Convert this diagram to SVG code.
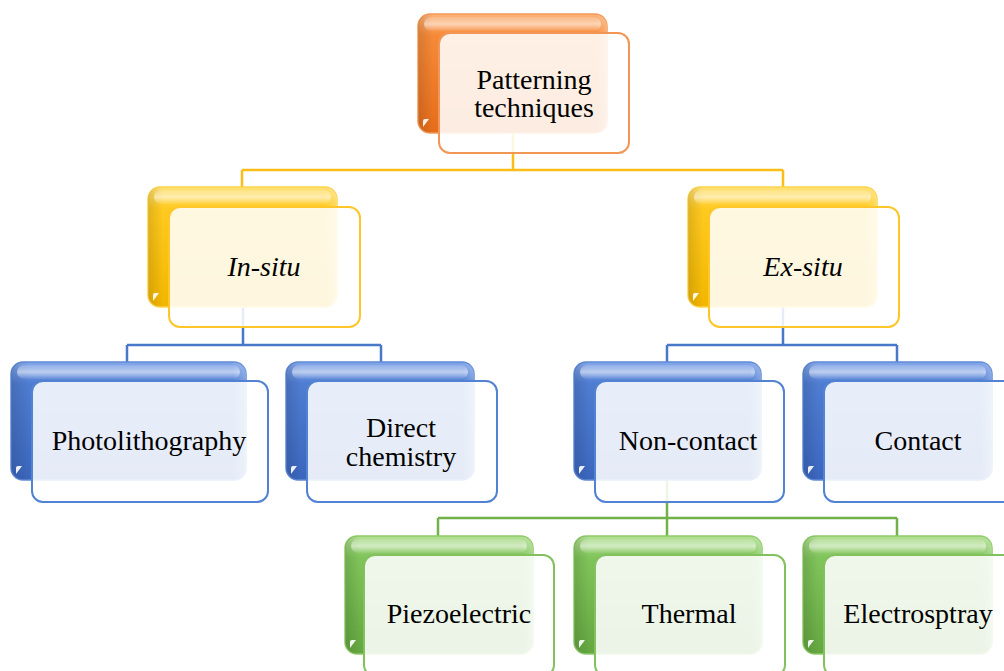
<svg xmlns="http://www.w3.org/2000/svg" width="1004" height="671" viewBox="0 0 1004 671">
  <defs>
    <linearGradient id="gOrange" x1="0" y1="0" x2="0" y2="1">
      <stop offset="0" stop-color="#fbb37a"/>
      <stop offset="0.18" stop-color="#f68a38"/>
      <stop offset="1" stop-color="#e56d1b"/>
    </linearGradient>
    <linearGradient id="gYellow" x1="0" y1="0" x2="0" y2="1">
      <stop offset="0" stop-color="#ffe27a"/>
      <stop offset="0.18" stop-color="#ffca1f"/>
      <stop offset="1" stop-color="#f2b600"/>
    </linearGradient>
    <linearGradient id="gBlue" x1="0" y1="0" x2="0" y2="1">
      <stop offset="0" stop-color="#86a8ea"/>
      <stop offset="0.18" stop-color="#4f7dd2"/>
      <stop offset="1" stop-color="#3b66bd"/>
    </linearGradient>
    <linearGradient id="gGreen" x1="0" y1="0" x2="0" y2="1">
      <stop offset="0" stop-color="#b4e196"/>
      <stop offset="0.18" stop-color="#80c45a"/>
      <stop offset="1" stop-color="#64a640"/>
    </linearGradient>
    <!-- horizontal darkening toward the left edge of the back tiles -->
    <linearGradient id="edge" x1="0" y1="0" x2="1" y2="0">
      <stop offset="0" stop-color="#000" stop-opacity="0.12"/>
      <stop offset="0.08" stop-color="#000" stop-opacity="0"/>
      <stop offset="0.94" stop-color="#fff" stop-opacity="0"/>
      <stop offset="1" stop-color="#fff" stop-opacity="0.25"/>
    </linearGradient>
    <linearGradient id="shine" x1="0" y1="0" x2="0" y2="1">
      <stop offset="0" stop-color="#fff" stop-opacity="0.15"/>
      <stop offset="0.5" stop-color="#fff" stop-opacity="0.55"/>
      <stop offset="1" stop-color="#fff" stop-opacity="0.05"/>
    </linearGradient>
  </defs>
  <style>
    .back{stroke-width:1.5}
    .edge{fill:url(#edge)}
    .shine{fill:url(#shine)}
    .nick{fill:#fff;opacity:0.9}
    .front{fill:#fff;fill-opacity:0.87;stroke-width:2}
    .orange .back{fill:url(#gOrange);stroke:#f49a58}
    .orange .front{stroke:#f29655}
    .yellow .back{fill:url(#gYellow);stroke:#ffd34a}
    .yellow .front{stroke:#ffc629}
    .blue .back{fill:url(#gBlue);stroke:#5f8ad6}
    .blue .front{stroke:#5282d2}
    .green .back{fill:url(#gGreen);stroke:#8cca68}
    .green .front{stroke:#82c15e}
    text{font-family:"Liberation Serif","Times New Roman",serif;font-size:28px;fill:#000;text-anchor:middle}
    .it{font-style:italic}
    .wire{fill:none;stroke-width:2.5}
    .w-yellow{stroke:#fbbd17}
    .w-blue{stroke:#4a78c9}
    .w-green{stroke:#72b04a}
  </style>

  <!-- connectors (drawn below the tiles; front tiles are translucent) -->
  <g id="connectors">
    <path class="wire w-yellow" d="M513,133 V170 M242,170 H783 M242,170 V188 M783,170 V188"/>
    <path class="wire w-blue" d="M243,307 V345 M127,345 H381 M127,345 V363 M381,345 V363"/>
    <path class="wire w-blue" d="M783,307 V345 M667,345 H897 M667,345 V363 M897,345 V363"/>
    <path class="wire w-green" d="M667,480 V518 M438,518 H897 M438,518 V537 M667,518 V537 M897,518 V537"/>
  </g>

  <g id="node-patterning" class="orange">
    <rect class="back" x="418" y="14" width="189" height="119" rx="12"/>
    <rect class="edge" x="418" y="14" width="189" height="119" rx="12"/>
    <rect class="shine" x="424" y="17" width="177" height="14" rx="7"/>
    <path class="nick" d="M423,127 V121 Q423,119 425,119 H429 Z"/>
    <rect class="front" x="439" y="33" width="190" height="120" rx="11"/>
    <text x="534" y="89">Patterning</text>
    <text x="534" y="117">techniques</text>
  </g>

  <g id="node-insitu" class="yellow">
    <rect class="back" x="148" y="187" width="189" height="120" rx="12"/>
    <rect class="edge" x="148" y="187" width="189" height="120" rx="12"/>
    <rect class="shine" x="154" y="190" width="177" height="14" rx="7"/>
    <path class="nick" d="M153,301 V295 Q153,293 155,293 H159 Z"/>
    <rect class="front" x="169" y="207" width="191" height="120" rx="11"/>
    <text class="it" x="264" y="276">In-situ</text>
  </g>

  <g id="node-exsitu" class="yellow">
    <rect class="back" x="688" y="187" width="189" height="120" rx="12"/>
    <rect class="edge" x="688" y="187" width="189" height="120" rx="12"/>
    <rect class="shine" x="694" y="190" width="177" height="14" rx="7"/>
    <path class="nick" d="M693,301 V295 Q693,293 695,293 H699 Z"/>
    <rect class="front" x="709" y="207" width="190" height="120" rx="11"/>
    <text class="it" x="803" y="276">Ex-situ</text>
  </g>

  <g id="node-photolithography" class="blue">
    <rect class="back" x="11" y="362" width="235" height="118" rx="12"/>
    <rect class="edge" x="11" y="362" width="235" height="118" rx="12"/>
    <rect class="shine" x="17" y="365" width="223" height="14" rx="7"/>
    <path class="nick" d="M16,474 V468 Q16,466 18,466 H22 Z"/>
    <rect class="front" x="32" y="381" width="236" height="121" rx="11"/>
    <text x="149" y="450">Photolithography</text>
  </g>

  <g id="node-direct-chemistry" class="blue">
    <rect class="back" x="286" y="362" width="188" height="118" rx="12"/>
    <rect class="edge" x="286" y="362" width="188" height="118" rx="12"/>
    <rect class="shine" x="292" y="365" width="176" height="14" rx="7"/>
    <path class="nick" d="M291,474 V468 Q291,466 293,466 H297 Z"/>
    <rect class="front" x="307" y="381" width="190" height="121" rx="11"/>
    <text x="401" y="437">Direct</text>
    <text x="401" y="466">chemistry</text>
  </g>

  <g id="node-non-contact" class="blue">
    <rect class="back" x="574" y="362" width="187" height="118" rx="12"/>
    <rect class="edge" x="574" y="362" width="187" height="118" rx="12"/>
    <rect class="shine" x="580" y="365" width="175" height="14" rx="7"/>
    <path class="nick" d="M579,474 V468 Q579,466 581,466 H585 Z"/>
    <rect class="front" x="595" y="381" width="189" height="121" rx="11"/>
    <text x="688" y="450">Non-contact</text>
  </g>

  <g id="node-contact" class="blue">
    <rect class="back" x="803" y="362" width="189" height="118" rx="12"/>
    <rect class="edge" x="803" y="362" width="189" height="118" rx="12"/>
    <rect class="shine" x="809" y="365" width="177" height="14" rx="7"/>
    <path class="nick" d="M808,474 V468 Q808,466 810,466 H814 Z"/>
    <rect class="front" x="824" y="381" width="190" height="121" rx="11"/>
    <text x="918" y="450">Contact</text>
  </g>

  <g id="node-piezoelectric" class="green">
    <rect class="back" x="345" y="536" width="188" height="118" rx="12"/>
    <rect class="edge" x="345" y="536" width="188" height="118" rx="12"/>
    <rect class="shine" x="351" y="539" width="176" height="14" rx="7"/>
    <path class="nick" d="M350,648 V642 Q350,640 352,640 H356 Z"/>
    <rect class="front" x="364" y="555" width="190" height="121" rx="11"/>
    <text x="459" y="623">Piezoelectric</text>
  </g>

  <g id="node-thermal" class="green">
    <rect class="back" x="574" y="536" width="188" height="118" rx="12"/>
    <rect class="edge" x="574" y="536" width="188" height="118" rx="12"/>
    <rect class="shine" x="580" y="539" width="176" height="14" rx="7"/>
    <path class="nick" d="M579,648 V642 Q579,640 581,640 H585 Z"/>
    <rect class="front" x="595" y="555" width="190" height="121" rx="11"/>
    <text x="689" y="623">Thermal</text>
  </g>

  <g id="node-electrospray" class="green">
    <rect class="back" x="803" y="536" width="189" height="118" rx="12"/>
    <rect class="edge" x="803" y="536" width="189" height="118" rx="12"/>
    <rect class="shine" x="809" y="539" width="177" height="14" rx="7"/>
    <path class="nick" d="M808,648 V642 Q808,640 810,640 H814 Z"/>
    <rect class="front" x="824" y="555" width="190" height="121" rx="11"/>
    <text x="918" y="623">Electrosptray</text>
  </g>
</svg>
